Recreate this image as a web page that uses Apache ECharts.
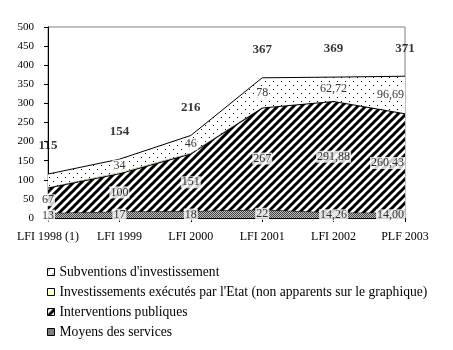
<!DOCTYPE html>
<html><head><meta charset="utf-8">
<script src="https://cdn.jsdelivr.net/npm/echarts@6/dist/echarts.min.js"></script>
<style>html,body{margin:0;padding:0;background:#fff}#c{width:453px;height:350px}</style>
</head><body><div id="c"></div>
<script>
var categories = ['LFI 1998 (1)', 'LFI 1999', 'LFI 2000', 'LFI 2001', 'LFI 2002', 'PLF 2003'];
var moyens = [13, 17, 18, 22, 14.26, 14.00];
var interventions = [67, 100, 151, 267, 291.88, 260.43];
var investissements = [0, 3, 1, 0, 0, 0];
var subventions = [35, 34, 46, 78, 62.72, 96.69];
var totals = [115, 154, 216, 367, 369, 371];
var yTicks = { min: 0, max: 500, interval: 50 };
var names = ['Subventions d\'investissement', 'Investissements exécutés par l\'Etat (non apparents sur le graphique)', 'Interventions publiques', 'Moyens des services'];

function mk(w, h, draw) { var c = document.createElement('canvas'); c.width = w; c.height = h; var g = c.getContext('2d'); g.fillStyle = '#fff'; g.fillRect(0, 0, w, h); draw(g); return c; }
var stripes = mk(8, 8, function (g) {
  g.strokeStyle = '#000'; g.lineWidth = 3;
  [[-8, 8, 8, -8], [0, 8, 8, 0], [0, 16, 16, 0]].forEach(function (l) { g.beginPath(); g.moveTo(l[0], l[1]); g.lineTo(l[2], l[3]); g.stroke(); });
});
var dots = mk(8, 8, function (g) { g.fillStyle = '#000'; g.fillRect(1, 1, 1, 1); g.fillRect(5, 5, 1, 1); });
var checker = mk(2, 2, function (g) { g.fillStyle = '#444'; g.fillRect(0, 0, 1, 1); g.fillRect(1, 1, 1, 1); g.fillStyle = '#bbb'; g.fillRect(1, 0, 1, 1); g.fillRect(0, 1, 1, 1); });
var pStripes = { image: stripes, repeat: 'repeat' };
var pDots = { image: dots, repeat: 'repeat' };
var pChecker = { image: checker, repeat: 'repeat' };

function fmt(v, i) { return i >= 4 ? v.toFixed(2).replace('.', ',') : String(Math.round(v)); }
var font = '"Liberation Serif", "Times New Roman", serif';

var stackSeries = [
  { name: names[3], data: moyens, fill: pChecker, lw: 1 },
  { name: names[2], data: interventions, fill: pStripes, lw: 2 },
  { name: names[1], data: investissements, fill: '#ffffcc', lw: 0 },
  { name: names[0], data: subventions, fill: pDots, lw: 1 }
];
var series = [];
var cum = categories.map(function () { return 0; });
stackSeries.forEach(function (s, k) {
  series.push({
    name: s.name, type: 'line', stack: 'all', data: s.data, symbol: 'none',
    lineStyle: { color: '#000', width: s.lw, opacity: s.lw ? 1 : 0 },
    itemStyle: { color: s.fill, borderColor: '#000', borderWidth: 1 },
    areaStyle: { color: s.fill, opacity: 1 }, z: 2 + k
  });
  var mids = [];
  s.data.forEach(function (v, i) {
    var m = cum[i] + v / 2; cum[i] += v;
    if (k === 2) return;
    if (k === 3 && i === 0) return;
    var item = { value: [i, m, v] };
    if (i === categories.length - 1) item.label = { align: 'right' };
    mids.push(item);
  });
  if (mids.length) series.push({
    type: 'scatter', data: mids, symbolSize: 1, itemStyle: { color: 'rgba(0,0,0,0)' }, z: 10, silent: true,
    label: { show: true, position: 'inside', fontFamily: font, fontSize: 12, color: '#000', backgroundColor: '#fff', padding: [0, 1, 0, 1],
      formatter: function (p) { return fmt(p.value[2], p.value[0]); } }
  });
});
series.push({
  type: 'scatter', data: totals.map(function (v, i) { return [i, v]; }), symbolSize: 1, itemStyle: { color: 'rgba(0,0,0,0)' }, z: 10, silent: true,
  label: { show: true, position: 'top', distance: 21, fontFamily: font, fontSize: 13, fontWeight: 'bold', color: '#000',
    formatter: function (p) { return String(p.value[1]); } }
});

var legendFills = [pDots, '#ffffcc', pStripes, pChecker];
var chart = echarts.init(document.getElementById('c'), null, { renderer: 'canvas' });
chart.setOption({
  animation: false,
  backgroundColor: '#fff',
  grid: { left: 48, right: 48, top: 27, bottom: 132, show: true, borderColor: '#808080', borderWidth: 1, backgroundColor: 'transparent' },
  xAxis: {
    type: 'category', data: categories, boundaryGap: false,
    axisLine: { show: true, lineStyle: { color: '#000' } },
    axisTick: { show: true, length: 4, lineStyle: { color: '#000' } },
    axisLabel: { fontFamily: font, fontSize: 12, color: '#000', margin: 13, interval: 0 }
  },
  yAxis: {
    type: 'value', min: yTicks.min, max: yTicks.max, interval: yTicks.interval,
    axisLine: { show: true, lineStyle: { color: '#000' } },
    axisTick: { show: true, length: 4, lineStyle: { color: '#000' } },
    axisLabel: { fontFamily: font, fontSize: 11, color: '#000', margin: 14 },
    splitLine: { show: false }
  },
  legend: {
    orient: 'vertical', left: 42, top: 260, itemGap: 6, icon: 'rect', itemWidth: 7, itemHeight: 7, itemTextGap: 3,
    textStyle: { fontFamily: font, fontSize: 13.6, color: '#000' },
    data: names.map(function (n, i) { return { name: n, itemStyle: { color: legendFills[i], borderColor: '#000', borderWidth: 1 } }; }),
    selectedMode: false
  },
  series: series
});
</script></body></html>
